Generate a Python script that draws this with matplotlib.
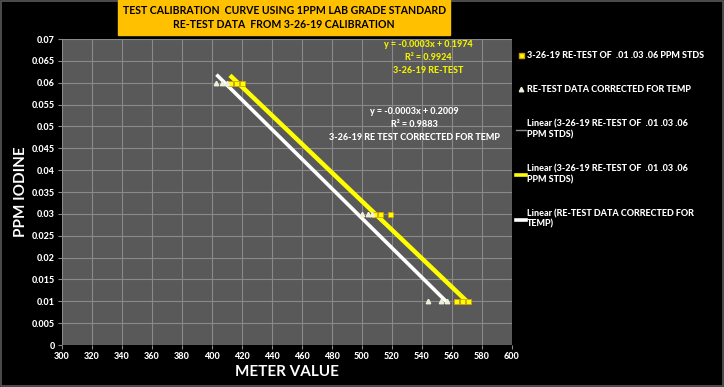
import numpy as np
import matplotlib
matplotlib.use("Agg")
import matplotlib.pyplot as plt
from matplotlib.lines import Line2D
from matplotlib.patches import Rectangle

plt.rcParams["font.family"] = ["Lato", "DejaVu Sans"]
plt.rcParams["font.weight"] = "bold"
plt.rcParams["axes.labelweight"] = "bold"
W = "black"  # heaviest Lato weight for the small texts

# 3-26-19 re-test of .01 .03 .06 ppm standards (meter value, ppm)
retest_x = [412, 416, 420, 508, 512, 519, 563, 567, 571]
retest_y = [0.06, 0.06, 0.06, 0.03, 0.03, 0.03, 0.01, 0.01, 0.01]
# re-test data corrected for temperature
corr_x = [403, 407, 410, 500, 504, 507, 544, 553, 557]
corr_y = [0.06, 0.06, 0.06, 0.03, 0.03, 0.03, 0.01, 0.01, 0.01]

lab_pts = "3-26-19 RE-TEST OF  .01 .03 .06 PPM STDS"
lab_corr = "RE-TEST DATA CORRECTED FOR TEMP"
lab_lin1 = "Linear (3-26-19 RE-TEST OF  .01 .03 .06\nPPM STDS)"
lab_lin2 = "Linear (RE-TEST DATA CORRECTED FOR\nTEMP)"

BG = "#595959"; GRID = "#8a8a8a"; YEL = "#ffff00"; TRI = "#f0f0d8"

fig = plt.figure(figsize=(7.24, 3.87), dpi=100, facecolor="black")
ax = fig.add_axes([0.0856, 0.1085, 0.6215, 0.7905])
ax.set_facecolor(BG)

# trendlines over each series' x range
for xs, ys, c, lw, z in [(retest_x, retest_y, YEL, 3.2, 3), (corr_x, corr_y, "white", 2.6, 2)]:
    m, b = np.polyfit(xs, ys, 1)
    xx = np.array([min(xs), max(xs)])
    ax.plot(xx, m * xx + b, color=c, lw=lw, zorder=z, solid_capstyle="butt")

ax.plot(retest_x, retest_y, "s", color=YEL, mec="#d4a000", mew=0.6, ms=3.6, zorder=4)
ax.plot(corr_x, corr_y, "^", color=TRI, mec=TRI, ms=3.2, zorder=4)

ax.set_xlim(300, 600); ax.set_ylim(0, 0.07)
ax.set_xticks(np.arange(300, 601, 20))
yt = np.round(np.arange(0, 0.0701, 0.005), 3)
ax.set_yticks(yt)
ax.set_yticklabels(["0" if v == 0 else f"{v:g}" for v in yt])
ax.grid(True, color=GRID, lw=0.8)
ax.set_axisbelow(True)
for s in ax.spines.values():
    s.set_visible(False)
ax.tick_params(colors="white", labelsize=6.5, length=3, color=GRID, pad=2)
for t in ax.get_xticklabels() + ax.get_yticklabels():
    t.set_fontweight(W)
ax.set_xlabel("METER VALUE", color="white", fontsize=11, labelpad=3)
ax.set_ylabel("PPM IODINE", color="white", fontsize=11, labelpad=3)

ax.text(544, 0.0698, "y = -0.0003x + 0.1974\nR² = 0.9924\n3-26-19 RE-TEST", color="#f2f200",
        fontsize=6.5, fontweight=W, ha="center", va="top", linespacing=1.55)
ax.text(535, 0.0545, "y = -0.0003x + 0.2009\nR² = 0.9883\n3-26-19 RE TEST CORRECTED FOR TEMP",
        color="white", fontsize=6.5, fontweight=W, ha="center", va="top", linespacing=1.55)

handles = [Line2D([], [], ls="none", marker="s", color=YEL, mec="#d4a000", ms=3.6),
           Line2D([], [], ls="none", marker="^", color=TRI, ms=3.2),
           Line2D([], [], color="#8c8c8c", lw=1.0),
           Line2D([], [], color=YEL, lw=2.6),
           Line2D([], [], color="white", lw=2.6)]
labels = [lab_pts, lab_corr, lab_lin1, lab_lin1, lab_lin2]
leg = fig.legend(handles, labels, loc="upper left", bbox_to_anchor=(0.708, 0.877),
                 frameon=False, prop=dict(size=6.5, weight=W), labelcolor="white",
                 handlelength=1.1, handletextpad=0.1, labelspacing=2.8, borderaxespad=0)

# title box
fig.text(0.3925, 0.955, "TEST CALIBRATION  CURVE USING 1PPM LAB GRADE STANDARD\nRE-TEST DATA  FROM 3-26-19 CALIBRATION",
         ha="center", va="center", fontsize=7.6, fontweight="bold", color="black", linespacing=1.3,
         bbox=dict(boxstyle="square,pad=0.45", fc="#ffc000", ec="#ffc000"))

fig.patches.append(Rectangle((0.001, 0.002), 0.997, 0.995, transform=fig.transFigure,
                             fill=False, ec="#595959", lw=1.2))
fig.savefig("out.png", dpi=100, facecolor="black")
